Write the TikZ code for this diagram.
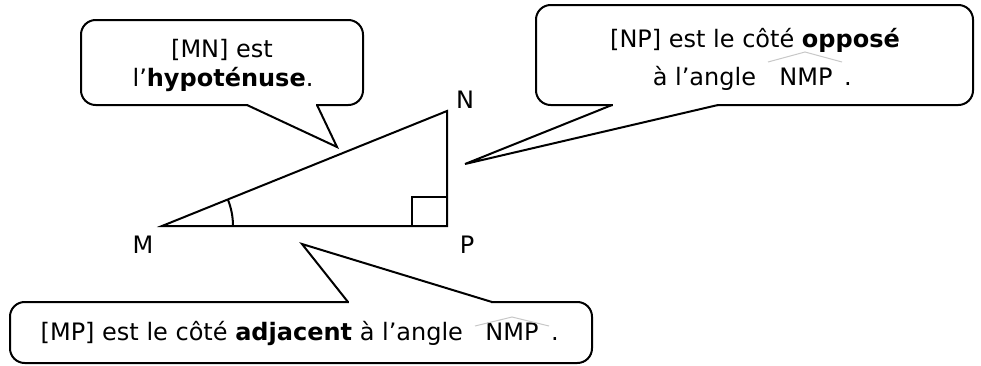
\documentclass[tikz,border=0pt]{standalone}
\usepackage{fontspec}
\setmainfont{DejaVu Sans}
\usetikzlibrary{positioning}

\tikzset{every picture/.style={line width=1.5pt}}
\tikzset{callout/.style={rounded corners=11pt, fill=white}}
\tikzset{hatline/.style={draw={rgb,255:red,200;green,200;blue,200}, line width=0.75pt}}
\tikzset{txt/.style={anchor=base, inner sep=0.75pt, font=\fontsize{18}{22}\selectfont}}

\begin{document}
\begin{tikzpicture}[x=0.75pt,y=0.75pt,yscale=-1]
\useasboundingbox (0,0) rectangle (981,365);

%Shape: Triangle
\coordinate (M) at (162,226);
\coordinate (P) at (447,226);
\coordinate (N) at (447,111);
\draw (M) -- (P) -- (N) -- cycle ;
%Straight Lines (right angle)
\draw (412,226) -- (412,197) -- (447,197) ;
%Arc (angle at M)
\draw ([xshift=53.25pt]M) arc [start angle=0, end angle=-21.98, radius=71] ;

%Shape: Callout hypotenuse
\draw [callout] (81,20) rectangle (363,105) ;
\fill [white] (248,102.5) rectangle (316,107.5) ;
\draw (247,105) -- (337,147) -- (317,105) ;
%Shape: Callout oppose
\draw [callout] (536,5) rectangle (973,105) ;
\fill [white] (613,102.5) rectangle (717,107.5) ;
\draw (612,105) -- (465,164) -- (718,105) ;
%Shape: Callout adjacent
\draw [callout] (10,302) rectangle (592,363) ;
\fill [white] (349,299.5) rectangle (491,304.5) ;
\draw (348,302) -- (302,244) -- (492,302) ;

% Text Node
\draw (143,253) node (lblM) [txt] {M};
% Text Node
\draw (467,253) node (lblP) [txt] {P};
% Text Node
\draw (465,108) node (lblN) [txt] {N};

% Text Node
\draw (222,57) node (hyp1) [txt] {[MN] est};
% Text Node
\draw (223,86) node (hyp2) [txt] {l’\textbf{hypoténuse}.};

% Text Node
\draw (755,47) node (opp1) [txt] {[NP] est le côté \textbf{opposé}};
% Text Node
\draw (758,85) node (opp2) [txt, anchor=base east] {à l’angle};
% Text Node
\draw (806,85) node (oppA) [txt] {NMP};
% Text Node
\draw (848,85) node (oppD) [txt] {.};
%Straight Lines (hat)
\draw [hatline] (768,62) -- (805,52) -- (842,62) ;

% Text Node
\draw (465,340) node (adj1) [txt, anchor=base east] {[MP] est le côté \textbf{adjacent} à l’angle};
% Text Node
\draw (512,340) node (adjA) [txt] {NMP};
% Text Node
\draw (555,340) node (adjD) [txt] {.};
%Straight Lines (hat)
\draw [hatline] (475,326) -- (512,317) -- (549,326) ;

\end{tikzpicture}
\end{document}
